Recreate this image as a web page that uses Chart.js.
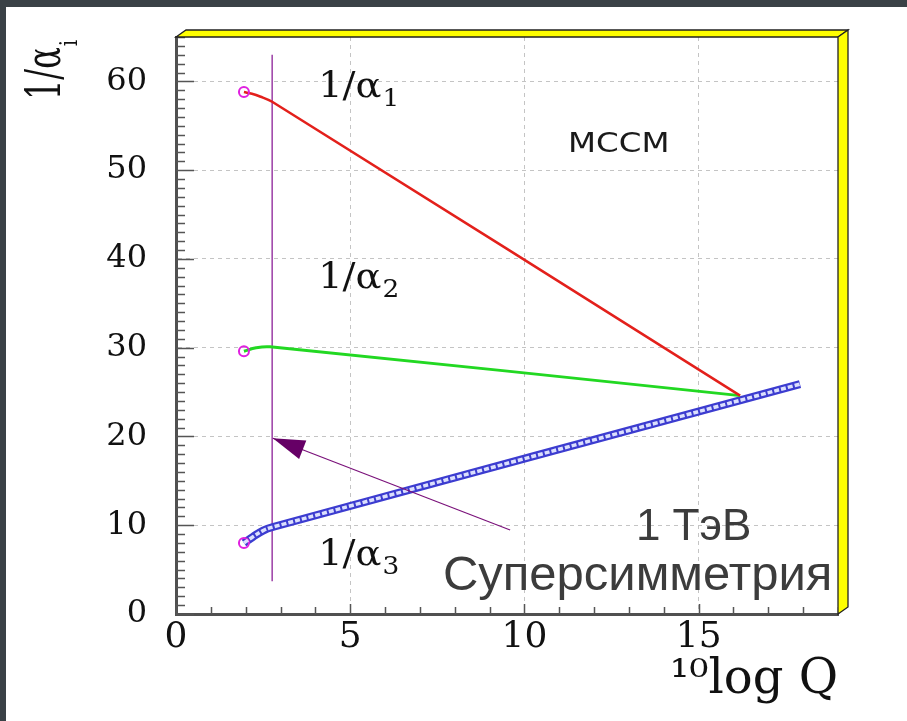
<!DOCTYPE html>
<html>
<head>
<meta charset="utf-8">
<script src="https://cdn.jsdelivr.net/npm/chart.js@4.4.0/dist/chart.umd.min.js"></script>
<style>
  html, body { margin: 0; padding: 0; background: #3a4146; width: 907px; height: 721px; overflow: hidden; }
  #wrap { position: absolute; left: 6px; top: 7px; width: 901px; height: 714px; background: #fff; }
  canvas { display: block; }
</style>
</head>
<body>
<div id="wrap"><canvas id="chart" width="901" height="714"></canvas></div>
<script>
// running inverse couplings 1/alpha_i in the MSSM
const alpha1X = [1.95, 2.18, 2.41, 2.76, 16.19];
const alpha1Y = [58.8, 58.6, 58.3, 57.7, 24.6];
const alpha2X = [1.95, 2.3, 2.7, 16.19];
const alpha2Y = [29.6, 30.0, 30.1, 24.6];
const alpha3X = [1.95, 2.21, 2.5, 2.78, 17.91];
const alpha3Y = [8.0, 8.7, 9.4, 9.8, 25.9];

// vertical line at 1 TeV and the arrow pointing to it
const tevX = [2.76, 2.76];
const tevY = [63.0, 3.7];
const arrowX = [9.59, 2.78];
const arrowY = [9.46, 19.8];

const xTickValues = [0, 5, 10, 15];
const yTickValues = [0, 10, 20, 30, 40, 50, 60];

const pts = (xs, ys) => xs.map((x, i) => ({ x, y: ys[i] }));
const firstOnly = r => ctx => (ctx.dataIndex === 0 ? r : 0);

function lineSet(xs, ys, color, width, extra) {
  return Object.assign({
    data: pts(xs, ys),
    borderColor: color,
    borderWidth: width,
    pointRadius: 0,
    fill: false,
    tension: 0.4
  }, extra || {});
}

const markerStyle = {
  pointRadius: firstOnly(5),
  pointBorderColor: '#e020e0',
  pointBackgroundColor: 'rgba(0,0,0,0)',
  pointBorderWidth: 2
};

// text helper, the serif labels on the slide look stretched
function drawText(ctx, str, x, y, font, color, sx, sy) {
  ctx.save();
  ctx.translate(x, y);
  ctx.scale(sx || 1, sy || 1);
  ctx.font = font;
  ctx.fillStyle = color;
  ctx.textAlign = 'left';
  ctx.textBaseline = 'alphabetic';
  ctx.fillText(str, 0, 0);
  const w = ctx.measureText(str).width * (sx || 1);
  ctx.restore();
  return w;
}

function invAlpha(ctx, x, y, sub) {
  const w = drawText(ctx, '1/\u03b1', x, y, '32px "DejaVu Serif"', '#111', 1.2, 1.1);
  drawText(ctx, sub, x + w + 1, y + 9, '22px "DejaVu Serif"', '#111', 1.2, 1.1);
}

const slideDecor = {
  id: 'slideDecor',
  afterDatasetsDraw(chart) {
    const { ctx, scales: { x, y } } = chart;

    // arrow head at the end of the arrow line
    const ap = chart.getDatasetMeta(5).data;
    const tail = ap[0], tip = ap[1];
    const ang = Math.atan2(tip.y - tail.y, tip.x - tail.x);
    const len = 32, half = 10;
    ctx.save();
    ctx.translate(tip.x, tip.y);
    ctx.rotate(ang);
    ctx.beginPath();
    ctx.moveTo(0, 0);
    ctx.lineTo(-len, -half);
    ctx.lineTo(-len, half);
    ctx.closePath();
    ctx.fillStyle = '#660066';
    ctx.fill();
    ctx.restore();

    // curve labels
    invAlpha(ctx, x.getPixelForValue(4.08), y.getPixelForValue(58.2), '1');
    invAlpha(ctx, x.getPixelForValue(4.08), y.getPixelForValue(36.7), '2');
    invAlpha(ctx, x.getPixelForValue(4.08), y.getPixelForValue(5.5), '3');

    drawText(ctx, 'МССМ', x.getPixelForValue(11.25), y.getPixelForValue(52.0), '26px "DejaVu Sans"', '#1a1a1a', 1.25);

    drawText(ctx, '1 ТэВ', x.getPixelForValue(13.2), y.getPixelForValue(8.3), '44px "Liberation Sans"', '#3c3c3c');
    drawText(ctx, 'Суперсимметрия', x.getPixelForValue(7.66), y.getPixelForValue(2.7), '49px "Liberation Sans"', '#3c3c3c');
  },
  afterDraw(chart) {
    const { ctx, chartArea: a, scales: { x, y } } = chart;

    // inward minor / major ticks
    ctx.save();
    ctx.strokeStyle = '#555';
    ctx.lineWidth = 1.5;
    ctx.beginPath();
    for (let v = 0; v <= 65; v++) {
      const py = Math.round(y.getPixelForValue(v)) + 0.5;
      const len = v % 10 === 0 ? 18 : 9;
      ctx.moveTo(a.left, py);
      ctx.lineTo(a.left + len, py);
    }
    for (let v = 0; v <= 19; v++) {
      const px = Math.round(x.getPixelForValue(v)) + 0.5;
      const len = v % 5 === 0 ? 10 : 7;
      ctx.moveTo(px, a.bottom);
      ctx.lineTo(px, a.bottom - len);
    }
    ctx.stroke();
    ctx.restore();

    // 3D box: yellow top and right walls
    const dx = 10, dy = 7;
    ctx.save();
    ctx.fillStyle = '#ffff00';
    ctx.strokeStyle = '#222';
    ctx.lineWidth = 1.3;
    ctx.beginPath();
    ctx.moveTo(a.left, a.top);
    ctx.lineTo(a.left + dx, a.top - dy);
    ctx.lineTo(a.right + dx, a.top - dy);
    ctx.lineTo(a.right, a.top);
    ctx.closePath();
    ctx.fill();
    ctx.stroke();
    ctx.beginPath();
    ctx.moveTo(a.right, a.top);
    ctx.lineTo(a.right + dx, a.top - dy);
    ctx.lineTo(a.right + dx, a.bottom - dy);
    ctx.lineTo(a.right, a.bottom);
    ctx.closePath();
    ctx.fill();
    ctx.stroke();
    ctx.restore();

    // y axis title 1/alpha_i, rotated
    ctx.save();
    ctx.translate(54, 93);
    ctx.rotate(-Math.PI / 2);
    const w = drawText(ctx, '1/\u03b1', 0, 0, '32px "DejaVu Serif"', '#111', 1, 1.5);
    drawText(ctx, 'i', w + 1, 17, '20px "DejaVu Serif"', '#111', 1, 1.2);
    ctx.restore();
  }
};

const gridCommon = { color: '#c4c4c4', lineWidth: 1, drawTicks: false };
const borderCommon = { color: '#505050', width: 3, dash: [4, 4] };

new Chart(document.getElementById('chart'), {
  type: 'line',
  data: {
    datasets: [
      lineSet(alpha1X, alpha1Y, '#e3201b', 2.5, Object.assign({ order: 0 }, markerStyle)),
      lineSet(alpha2X, alpha2Y, '#22d822', 3, Object.assign({ order: 0 }, markerStyle)),
      lineSet(alpha3X, alpha3Y, '#3c3cd0', 8, Object.assign({ order: 2 }, markerStyle)),
      lineSet(alpha3X, alpha3Y, 'rgba(228,232,255,0.95)', 3.5, { order: 1, borderDash: [5, 2] }),
      lineSet(tevX, tevY, '#9b3fa6', 1.5, { order: 3, tension: 0 }),
      lineSet(arrowX, arrowY, '#7a117a', 1.2, { order: 0, tension: 0 })
    ]
  },
  options: {
    responsive: false,
    animation: false,
    layout: { padding: { top: 30, right: 69, left: 0, bottom: 0 } },
    plugins: { legend: { display: false }, tooltip: { enabled: false } },
    scales: {
      x: {
        type: 'linear', min: 0, max: 19,
        afterBuildTicks: s => { s.ticks = xTickValues.map(v => ({ value: v })); },
        afterFit: s => { s.height = 107; s.paddingLeft = 0; s.paddingRight = 0; },
        ticks: { font: { family: 'DejaVu Serif', size: 36, lineHeight: 1 }, color: '#111', padding: 6, maxRotation: 0 },
        grid: gridCommon,
        border: borderCommon,
        title: {
          display: true, text: '\u00b9\u2070log Q', align: 'end', color: '#111',
          font: { family: 'DejaVu Serif', size: 48, lineHeight: 1.2 },
          padding: { top: 0, bottom: 12 }
        }
      },
      y: {
        type: 'linear', min: 0, max: 65,
        afterBuildTicks: s => { s.ticks = yTickValues.map(v => ({ value: v })); },
        afterFit: s => { s.width = 170; s.paddingTop = 0; s.paddingBottom = 0; },
        ticks: { font: { family: 'DejaVu Serif', size: 32, lineHeight: 1 }, color: '#111', padding: 29 },
        grid: gridCommon,
        border: borderCommon
      }
    }
  },
  plugins: [slideDecor]
});
</script>
</body>
</html>
